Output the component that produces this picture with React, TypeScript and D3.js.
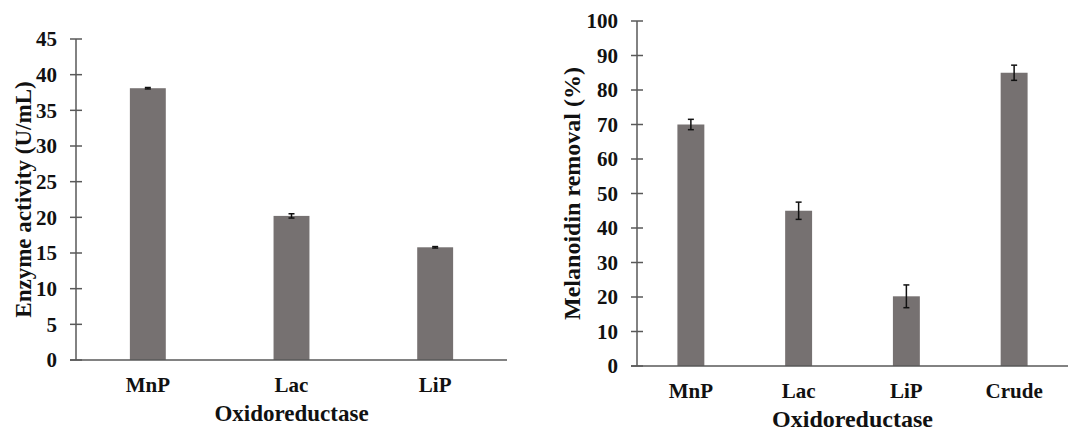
import React from 'react';
import * as d3 from 'd3';

// left panel: enzyme activity
const enzymeCats = ['MnP', 'Lac', 'LiP'];
const enzymeVals = [38.1, 20.2, 15.8];
const enzymeErr = [0.1, 0.3, 0.1];
const enzymeTicks = [0, 5, 10, 15, 20, 25, 30, 35, 40, 45];

// right panel: melanoidin removal
const removalCats = ['MnP', 'Lac', 'LiP', 'Crude'];
const removalVals = [70, 45, 20.2, 85];
const removalErr = [1.5, 2.5, 3.3, 2.2];
const removalTicks = [0, 10, 20, 30, 40, 50, 60, 70, 80, 90, 100];

const FONT = '"Liberation Serif", serif';
const BAR = '#767171';
const AXIS = '#595959';
const INK = '#111';

type PanelProps = {
  cats: string[];
  vals: number[];
  errs: number[];
  ticks: number[];
  x0: number;
  x1: number;
  yTop: number;
  yBottom: number;
  yLabel: string;
  yLabelX: number;
  titleSize: number;
};

const txt = { fontFamily: FONT, fontWeight: 700 as const };

function Panel(p: PanelProps) {
  const max = p.ticks[p.ticks.length - 1];
  const y = d3.scaleLinear().domain([0, max]).range([p.yBottom, p.yTop]);
  const x = d3.scaleBand().domain(p.cats).range([p.x0, p.x1]).paddingInner(0.75).paddingOuter(0.375);
  const midY = (p.yTop + p.yBottom) / 2;

  return (
    <g>
      {p.cats.map((c, i) => (
        <rect key={c} x={x(c)} y={y(p.vals[i])} width={x.bandwidth()} height={y(0) - y(p.vals[i])} fill={BAR} />
      ))}
      {p.cats.map((c, i) => {
        const cx = (x(c) as number) + x.bandwidth() / 2;
        const hi = y(p.vals[i] + p.errs[i]);
        const lo = y(p.vals[i] - p.errs[i]);
        return (
          <g key={c} stroke={INK} strokeWidth={1.5}>
            <line x1={cx} x2={cx} y1={hi} y2={lo} />
            <line x1={cx - 3} x2={cx + 3} y1={hi} y2={hi} />
            <line x1={cx - 3} x2={cx + 3} y1={lo} y2={lo} />
          </g>
        );
      })}
      {/* axes */}
      <line x1={p.x0} x2={p.x0} y1={p.yTop} y2={p.yBottom} stroke={AXIS} strokeWidth={1.5} />
      <line x1={p.x0 - 6} x2={p.x1} y1={p.yBottom} y2={p.yBottom} stroke={AXIS} strokeWidth={1.5} />
      {p.ticks.map(t => (
        <g key={t}>
          <line x1={p.x0 - 6} x2={p.x0 + 6} y1={y(t)} y2={y(t)} stroke={AXIS} strokeWidth={1.5} />
          <text x={p.x0 - 19} y={y(t)} dy="0.35em" textAnchor="end" fontSize={21} fill={INK} style={txt}>
            {t}
          </text>
        </g>
      ))}
      {p.cats.map(c => (
        <text
          key={c}
          x={(x(c) as number) + x.bandwidth() / 2}
          y={p.yBottom + 32}
          textAnchor="middle"
          fontSize={21}
          fill={INK}
          style={txt}
        >
          {c}
        </text>
      ))}
      <text x={(p.x0 + p.x1) / 2} y={p.yBottom + 61} textAnchor="middle" fontSize={p.titleSize} fill={INK} style={txt}>
        Oxidoreductase
      </text>
      <text
        transform={`translate(${p.yLabelX},${midY}) rotate(-90)`}
        textAnchor="middle"
        fontSize={p.titleSize}
        fill={INK}
        style={txt}
      >
        {p.yLabel}
      </text>
    </g>
  );
}

export default function App() {
  return (
    <div style={{ position: 'absolute', left: 0, top: 0 }}>
      <svg width={1068} height={433} style={{ display: 'block', background: '#fff' }}>
        <Panel
          cats={enzymeCats}
          vals={enzymeVals}
          errs={enzymeErr}
          ticks={enzymeTicks}
          x0={76}
          x1={507}
          yTop={39}
          yBottom={360}
          yLabel="Enzyme activity (U/mL)"
          yLabelX={31}
          titleSize={23}
        />
        <Panel
          cats={removalCats}
          vals={removalVals}
          errs={removalErr}
          ticks={removalTicks}
          x0={637}
          x1={1068}
          yTop={21}
          yBottom={366}
          yLabel="Melanoidin removal (%)"
          yLabelX={580}
          titleSize={24}
        />
      </svg>
    </div>
  );
}
